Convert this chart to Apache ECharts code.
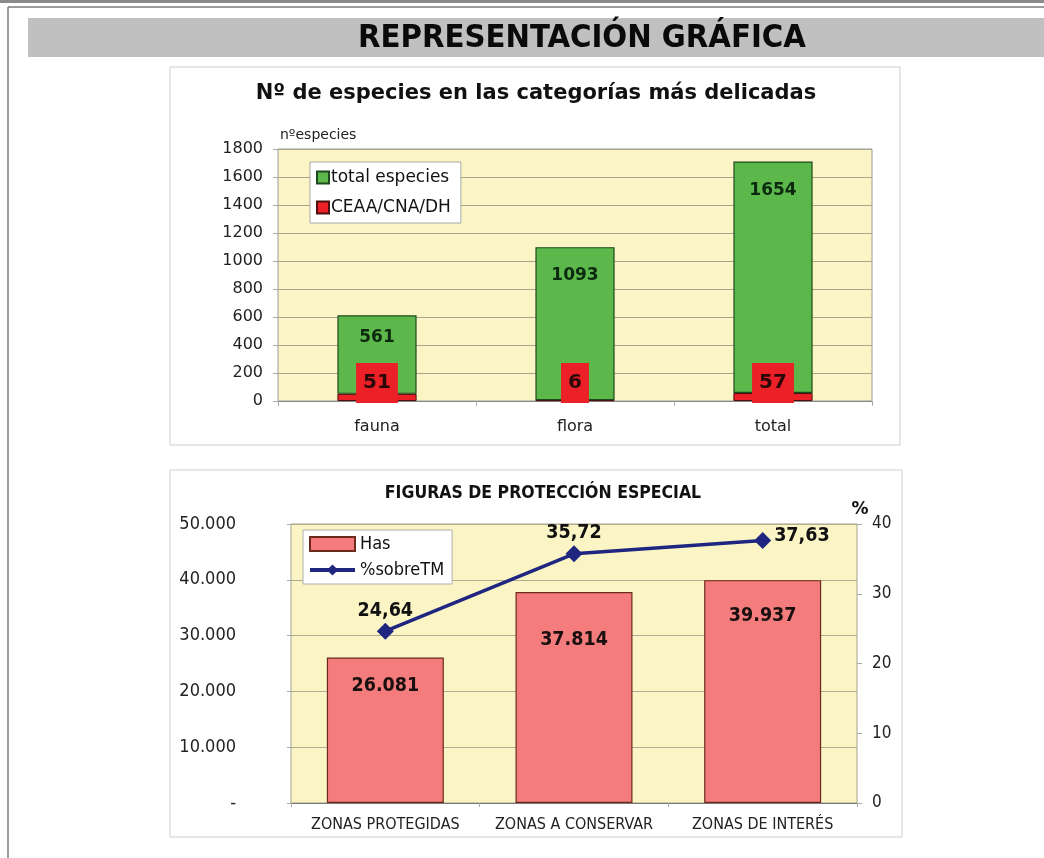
<!DOCTYPE html>
<html>
<head>
<meta charset="utf-8">
<script src="https://cdn.jsdelivr.net/npm/echarts@6/dist/echarts.min.js"></script>
<style>
  html, body { margin: 0; padding: 0; background: #ffffff; }
  #chart { width: 1044px; height: 858px; }
</style>
</head>
<body>
<div id="chart"></div>
<script>
// ---- Data: top chart ----
const especiesCategories = ['fauna', 'flora', 'total'];
const totalEspecies = [561, 1093, 1654];
const ceaaCnaDh = [51, 6, 57];
const especiesLegend = ['total especies', 'CEAA/CNA/DH'];

// ---- Data: bottom chart ----
const zonasCategories = ['ZONAS PROTEGIDAS', 'ZONAS A CONSERVAR', 'ZONAS DE INTERÉS'];
const hasValues = [26081, 37814, 39937];
const pctSobreTM = [24.64, 35.72, 37.63];
const proteccionLegend = ['Has', '%sobreTM'];

const SANS = '"DejaVu Sans", Verdana, sans-serif';
const COND = '"DejaVu Sans Condensed", "DejaVu Sans", sans-serif';

function thousandsDot(v) {
  return String(Math.round(v)).replace(/\B(?=(\d{3})+(?!\d))/g, '.');
}
function commaDecimal(v) {
  return v.toFixed(2).replace('.', ',');
}

const chart = echarts.init(document.getElementById('chart'), null, { renderer: 'canvas' });

const greenDist = [14, 20, 21];
const hasDist = [18, 38, 26];

const option = {
  animation: false,
  backgroundColor: '#ffffff',
  graphic: [
    // outer frame
    { type: 'rect', shape: { x: 0, y: 0, width: 1044, height: 3 }, style: { fill: '#8a8a8a' }, z: -1 },
    { type: 'line', shape: { x1: 8, y1: 7, x2: 1044, y2: 7 }, style: { stroke: '#7a7a7a', lineWidth: 1.5 }, z: -1 },
    { type: 'line', shape: { x1: 8, y1: 7, x2: 8, y2: 858 }, style: { stroke: '#7a7a7a', lineWidth: 1.5 }, z: -1 },
    // gray title band
    { type: 'rect', shape: { x: 28, y: 18, width: 1016, height: 39 }, style: { fill: '#c0c0c0' }, z: -1 },
    { type: 'text', x: 582, y: 39, style: { text: 'REPRESENTACIÓN GRÁFICA', fill: '#0a0a0a', font: 'bold 32.5px ' + COND, textAlign: 'center', textVerticalAlign: 'middle' }, z: 1 },
    // chart boxes
    { type: 'rect', shape: { x: 170, y: 67, width: 730, height: 378 }, style: { fill: 'none', stroke: '#cfcfcf', lineWidth: 1 }, z: -1 },
    { type: 'rect', shape: { x: 170, y: 470, width: 732, height: 367 }, style: { fill: 'none', stroke: '#cfcfcf', lineWidth: 1 }, z: -1 },
    // titles
    { type: 'text', x: 536, y: 94, style: { text: 'Nº de especies en las categorías más delicadas', fill: '#111', font: 'bold 21px ' + SANS, textAlign: 'center', textVerticalAlign: 'middle' }, z: 1 },
    { type: 'text', x: 280, y: 135, style: { text: 'nºespecies', fill: '#222', font: '14px ' + SANS, textAlign: 'left', textVerticalAlign: 'middle' }, z: 1 },
    { type: 'text', x: 543, y: 493, style: { text: 'FIGURAS DE PROTECCIÓN ESPECIAL', fill: '#111', font: 'bold 17.5px ' + COND, textAlign: 'center', textVerticalAlign: 'middle' }, z: 1 },
    { type: 'text', x: 860, y: 510, style: { text: '%', fill: '#111', font: 'bold 17px ' + SANS, textAlign: 'center', textVerticalAlign: 'middle' }, z: 1 }
  ],
  legend: [
    {
      data: especiesLegend.map(n => ({ name: n, icon: 'rect' })),
      orient: 'vertical',
      left: 310, top: 162,
      backgroundColor: '#ffffff',
      borderColor: '#a8a8a8', borderWidth: 1,
      padding: [7, 10, 7, 6],
      itemGap: 13,
      itemWidth: 12, itemHeight: 12,
      textStyle: { fontFamily: SANS, fontSize: 17, color: '#111', padding: [0, 0, 0, -3] },
      z: 10
    },
    {
      data: [
        { name: proteccionLegend[0], icon: 'rect' },
        { name: proteccionLegend[1], lineStyle: { width: 4 } }
      ],
      orient: 'vertical',
      left: 303, top: 530,
      backgroundColor: '#ffffff',
      borderColor: '#b0b0b0', borderWidth: 1,
      padding: [5, 8, 5, 5],
      itemGap: 8,
      itemWidth: 45, itemHeight: 14,
      textStyle: { fontFamily: COND, fontSize: 18, color: '#111' },
      z: 10
    }
  ],
  grid: [
    { left: 278, top: 149, width: 594, height: 252, show: true, backgroundColor: '#fbf5c6', borderColor: '#9c9c9c', borderWidth: 1, containLabel: false },
    { left: 291, top: 524, width: 566, height: 279, show: true, backgroundColor: '#fbf5c6', borderColor: '#a6a38a', borderWidth: 1, containLabel: false }
  ],
  xAxis: [
    {
      type: 'category', gridIndex: 0, data: especiesCategories,
      axisLine: { lineStyle: { color: '#888', width: 1 } },
      axisTick: { show: true, length: 5, lineStyle: { color: '#aaa' } },
      axisLabel: { fontFamily: SANS, fontSize: 16, color: '#222', margin: 18, interval: 0 }
    },
    {
      type: 'category', gridIndex: 1, data: zonasCategories,
      axisLine: { lineStyle: { color: '#777', width: 1 } },
      axisTick: { show: true, length: 4, lineStyle: { color: '#aaa' } },
      axisLabel: { fontFamily: COND, fontSize: 16, color: '#222', margin: 14, interval: 0, hideOverlap: false }
    }
  ],
  yAxis: [
    {
      type: 'value', gridIndex: 0, min: 0, max: 1800, interval: 200,
      axisLine: { show: false },
      axisTick: { show: true, length: 5, lineStyle: { color: '#aaa' } },
      axisLabel: { fontFamily: SANS, fontSize: 16, color: '#222', margin: 15, formatter: v => String(v) },
      splitLine: { lineStyle: { color: '#aaa58c', width: 1 } }
    },
    {
      type: 'value', gridIndex: 1, min: 0, max: 50000, interval: 10000,
      axisLine: { show: false },
      axisTick: { show: true, length: 4, lineStyle: { color: '#aaa' } },
      axisLabel: { fontFamily: COND, fontSize: 18, color: '#222', margin: 55, formatter: v => v === 0 ? '-' : thousandsDot(v) },
      splitLine: { lineStyle: { color: '#b0ac90', width: 1 } }
    },
    {
      type: 'value', gridIndex: 1, position: 'right', min: 0, max: 40, interval: 10,
      axisLine: { show: false },
      axisTick: { show: true, length: 5, lineStyle: { color: '#aaa' } },
      axisLabel: { fontFamily: COND, fontSize: 17, color: '#222', margin: 15 },
      splitLine: { show: false }
    }
  ],
  series: [
    {
      name: 'CEAA/CNA/DH', type: 'bar', stack: 'especies',
      xAxisIndex: 0, yAxisIndex: 0,
      barWidth: '40%', z: 3,
      data: ceaaCnaDh,
      itemStyle: { color: '#ec2027', borderColor: '#4a1010', borderWidth: 1 },
      label: {
        show: true, position: 'insideBottom', distance: -2,
        backgroundColor: '#ec2027',
        padding: [10, 7],
        fontFamily: SANS, fontWeight: 'bold', fontSize: 20, color: '#2a0808'
      }
    },
    {
      name: 'total especies', type: 'bar', stack: 'especies',
      xAxisIndex: 0, yAxisIndex: 0,
      barWidth: '40%', z: 2,
      data: totalEspecies.map((v, i) => ({ value: v, label: { distance: greenDist[i] } })),
      itemStyle: { color: '#5cb84b', borderColor: '#1d4a1d', borderWidth: 1.2 },
      label: {
        show: true, position: 'insideTop',
        fontFamily: SANS, fontWeight: 'bold', fontSize: 17, color: '#0c2a10'
      }
    },
    {
      name: 'Has', type: 'bar',
      xAxisIndex: 1, yAxisIndex: 1,
      barWidth: '62%', z: 2,
      data: hasValues.map((v, i) => ({ value: v, label: { distance: hasDist[i] } })),
      itemStyle: { color: '#f47c7c', borderColor: '#6b2a1c', borderWidth: 1.2 },
      label: {
        show: true, position: 'insideTop',
        fontFamily: COND, fontWeight: 'bold', fontSize: 19.5, color: '#1a1010',
        formatter: p => thousandsDot(p.value)
      }
    },
    {
      name: '%sobreTM', type: 'line',
      xAxisIndex: 1, yAxisIndex: 2, z: 4,
      data: pctSobreTM.map((v, i) => i === pctSobreTM.length - 1
        ? { value: v, label: { position: 'right', distance: 3, offset: [0, -5] } }
        : v),
      lineStyle: { color: '#1f2680', width: 3.5 },
      itemStyle: { color: '#1f2680' },
      symbol: 'diamond', symbolSize: 17,
      label: {
        show: true, position: 'top', distance: 2,
        fontFamily: COND, fontWeight: 'bold', fontSize: 19.5, color: '#111',
        formatter: p => commaDecimal(p.value)
      }
    }
  ]
};

chart.setOption(option);
</script>
</body>
</html>
